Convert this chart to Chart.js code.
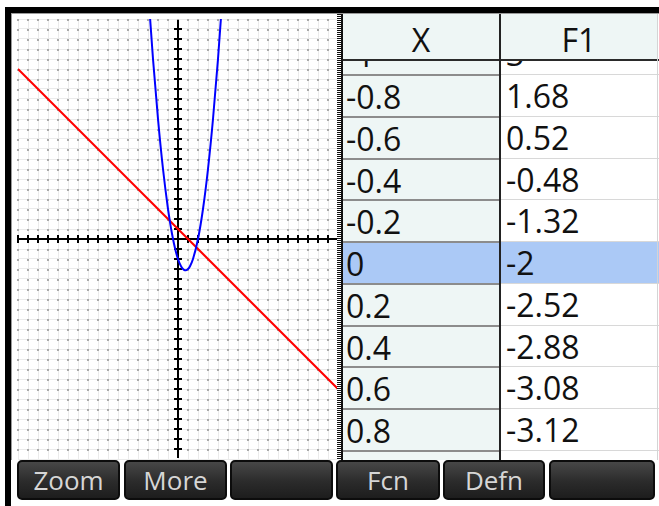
<!DOCTYPE html>
<html>
<head>
<meta charset="utf-8">
<script src="https://cdn.jsdelivr.net/npm/chart.js@4/dist/chart.umd.min.js"></script>
<style>
  body { margin: 0; width: 659px; height: 506px; overflow: hidden; position: relative; background: #fff; font-family: "Open Sans", "Noto Sans", sans-serif; }
  .abs { position: absolute; }
  #topbar { left: 5px; top: 7px; width: 654px; height: 6px; background: #000; }
  #topline { left: 11px; top: 13px; width: 648px; height: 1px; background: #9a9a9a; }
  #leftbar { left: 5px; top: 7px; width: 6px; height: 499px; background: #000; }
  #leftline { left: 11px; top: 13px; width: 1px; height: 447px; background: #9a9a9a; }
  #plot { left: 12px; top: 14px; }
  #ladder { left: 337px; top: 14px; width: 4px; height: 446px; background: repeating-linear-gradient(to bottom, #111 0 1px, #fff 1px 2px); }
  #ladderline { left: 341px; top: 14px; width: 2px; height: 446px; background: #111; }
  #body { left: 343px; top: 61px; width: 316px; height: 399px; overflow: hidden; background: #fff; }
  #xcol { left: 0; top: 0; width: 156px; height: 399px; background: #eef6f5; }
  .row { position: absolute; left: 0; width: 316px; height: 41.75px; }
  .row .cx, .row .cf { position: absolute; top: 0; height: 41.75px; line-height: 41.75px; font-size: 32px; color: #111; white-space: nowrap; }
  .row .cx { left: 0; width: 156px; padding-left: 3px; box-sizing: border-box; border-top: 2px solid #8c8c8c; }
  .row .cf { left: 158px; width: 158px; padding-left: 5px; box-sizing: border-box; border-top: 1px solid #d8d8d8; }
  .row.sel .cx, .row.sel .cf { background: #abc9f6; }
  #divider { left: 499px; top: 14px; width: 2px; height: 446px; background: #222; }
  #thead { left: 343px; top: 14px; width: 314px; height: 46px; background: #eef6f5; }
  #thead div { position: absolute; top: 0; height: 46px; line-height: 51px; font-size: 32px; color: #111; text-align: center; }
  #headline { left: 343px; top: 59px; width: 316px; height: 2px; background: #2a2a2a; }
  #rightline { left: 657px; top: 14px; width: 1px; height: 446px; background: #d4d4d4; }
  .btn { position: absolute; top: 460px; height: 40px; box-sizing: border-box; border: 2px solid #0c0c0c; border-radius: 5px;
         background: linear-gradient(to bottom, #474747, #2b2b2b 55%, #1d1d1d); color: #d6d6d6; font-size: 26px; line-height: 36px; text-align: center; }
</style>
</head>
<body>
<div id="topbar" class="abs"></div>
<div id="leftbar" class="abs"></div>
<div id="topline" class="abs"></div>
<div id="leftline" class="abs"></div>
<canvas id="plot" class="abs" width="328" height="446"></canvas>
<div id="body" class="abs"><div id="xcol" class="abs"></div></div>
<div id="thead" class="abs"></div>
<div id="headline" class="abs"></div>
<div id="divider" class="abs"></div>
<div id="ladder" class="abs"></div>
<div id="ladderline" class="abs"></div>
<div id="rightline" class="abs"></div>
<div id="menu"></div>
<script>
// Du lieu ------------------------------------------------------------
// fenetre du trace
const xRange = [-16, 16];
const yRange = [-22, 22];

// courbe bleue (parabole)
const parabolaX = [-3, -2.5, -2, -1.5, -1, -0.8, -0.6, -0.4, -0.2, 0, 0.2, 0.4, 0.6, 0.8, 1, 1.2, 1.5, 2, 2.5, 3, 3.5, 4, 4.5];
const parabolaY = [25, 18, 12, 7, 3, 1.68, 0.52, -0.48, -1.32, -2, -2.52, -2.88, -3.08, -3.12, -3, -2.72, -2, 0, 3, 7, 12, 18, 25];

// droite rouge
const lineX = [-16, 16];
const lineY = [17, -15];

// tableau
const headers = ["X", "F1"];
const tableX = ["-1", "-0.8", "-0.6", "-0.4", "-0.2", "0", "0.2", "0.4", "0.6", "0.8", "1"];
const tableF1 = ["3", "1.68", "0.52", "-0.48", "-1.32", "-2", "-2.52", "-2.88", "-3.08", "-3.12", "-3"];
const selectedRow = 5;

// menu
const menuLabels = ["Zoom", "More", "", "Fcn", "Defn", ""];
const menuLeft = [17, 124, 230, 336, 443, 549];
const menuRight = [120, 227, 333, 440, 545, 655];

// Axes du trace (lignes + graduations) --------------------------------
const axesPlugin = {
  id: "axesCroix",
  beforeDatasetsDraw(chart) {
    const { ctx, chartArea, scales } = chart;
    const x0 = Math.round(scales.x.getPixelForValue(0));
    const y0 = Math.round(scales.y.getPixelForValue(0));
    ctx.save();
    ctx.strokeStyle = "#000";
    ctx.lineWidth = 2;
    ctx.beginPath();
    ctx.moveTo(chartArea.left, y0);
    ctx.lineTo(chartArea.right, y0);
    ctx.moveTo(x0, chartArea.top + 1);
    ctx.lineTo(x0, chartArea.bottom - 1);
    for (let v = xRange[0]; v <= xRange[1]; v++) {
      const px = Math.round(scales.x.getPixelForValue(v));
      ctx.moveTo(px, y0 - 4);
      ctx.lineTo(px, y0 + 4);
    }
    for (let v = yRange[0] + 1; v < yRange[1]; v++) {
      const py = Math.round(scales.y.getPixelForValue(v));
      ctx.moveTo(x0 - 4, py);
      ctx.lineTo(x0 + 4, py);
    }
    ctx.stroke();
    ctx.restore();
  }
};

const hiddenTicks = { display: false, stepSize: 1, maxTicksLimit: 100, autoSkip: false };

new Chart(document.getElementById("plot"), {
  type: "line",
  data: {
    datasets: [
      {
        data: parabolaX.map((x, i) => ({ x: x, y: parabolaY[i] })),
        borderColor: "#0000ff",
        borderWidth: 2,
        pointRadius: 0,
        cubicInterpolationMode: "monotone",
      },
      {
        data: lineX.map((x, i) => ({ x: x, y: lineY[i] })),
        borderColor: "#ff0000",
        borderWidth: 2,
        pointRadius: 0,
      },
    ],
  },
  options: {
    responsive: false,
    devicePixelRatio: 1,
    animation: false,
    layout: { padding: { left: 6, right: 2, top: 5, bottom: 1 } },
    plugins: { legend: { display: false }, tooltip: { enabled: false } },
    scales: {
      x: { type: "linear", min: xRange[0], max: xRange[1], ticks: hiddenTicks,
           grid: { color: "#ebebeb", drawTicks: false }, border: { display: false } },
      y: { type: "linear", min: yRange[0], max: yRange[1], ticks: hiddenTicks,
           grid: { color: "#ebebeb", drawTicks: false }, border: { display: false } },
      xd: { type: "linear", axis: "x", position: "bottom", min: xRange[0], max: xRange[1], ticks: hiddenTicks,
            grid: { color: "#a9a9a9", lineWidth: 2, drawTicks: false }, border: { display: false, dash: [2, 8] } },
    },
  },
  plugins: [axesPlugin],
});

// Tableau -------------------------------------------------------------
const thead = document.getElementById("thead");
thead.innerHTML = '<div style="left:0;width:156px">' + headers[0] + '</div>' +
                  '<div style="left:158px;width:156px">' + headers[1] + '</div>';

const body = document.getElementById("body");
tableX.forEach((x, i) => {
  const row = document.createElement("div");
  row.className = "row" + (i === selectedRow ? " sel" : "");
  row.style.top = (74 - 41.75 + i * 41.75 - 61) + "px";
  row.innerHTML = '<div class="cx">' + x + '</div><div class="cf">' + tableF1[i] + '</div>';
  body.appendChild(row);
});

// Menu ----------------------------------------------------------------
const menu = document.getElementById("menu");
menuLabels.forEach((label, i) => {
  const b = document.createElement("div");
  b.className = "btn";
  b.style.left = menuLeft[i] + "px";
  b.style.width = (menuRight[i] - menuLeft[i]) + "px";
  b.textContent = label;
  menu.appendChild(b);
});
</script>
</body>
</html>
